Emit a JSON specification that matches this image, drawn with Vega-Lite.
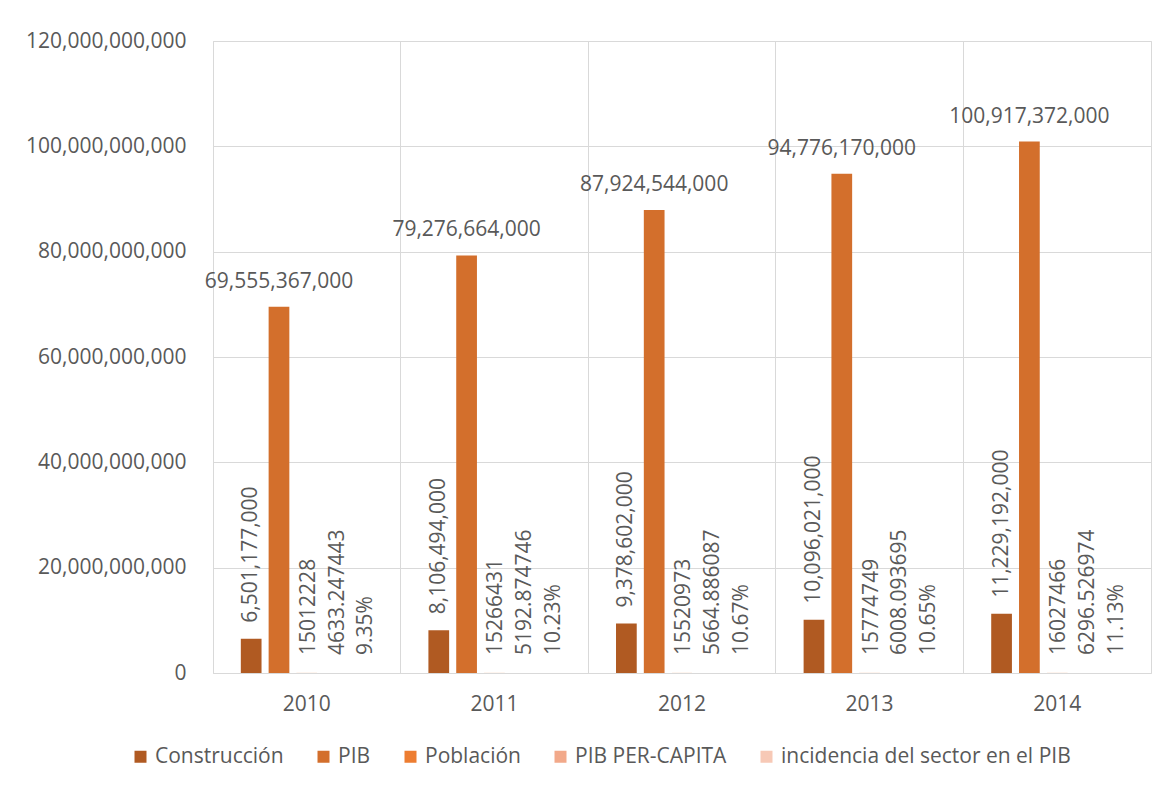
{
  "$schema": "https://vega.github.io/schema/vega-lite/v6.json",
  "width": 938,
  "height": 632,
  "autosize": {"type": "none"},
  "padding": {"left": 213, "top": 41, "right": 16, "bottom": 114},
  "background": "white",
  "config": {
    "font": "Open Sans",
    "view": {"stroke": "#d9d9d9", "strokeWidth": 1},
    "axis": {"labelFont": "Open Sans", "labelFontSize": 21, "labelColor": "#595959", "gridColor": "#d9d9d9", "gridWidth": 1, "domain": false, "ticks": false, "title": null},
    "text": {"font": "Open Sans", "fontSize": 21, "fill": "#595959"}
  },
  "data": {
    "values": [
      {"year": "2010", "serie": "Construcción", "value": 6501177000},
      {"year": "2010", "serie": "PIB", "value": 69555367000},
      {"year": "2010", "serie": "Población", "value": 15012228},
      {"year": "2010", "serie": "PIB PER-CAPITA", "value": 4633.247443},
      {"year": "2010", "serie": "incidencia del sector en el PIB", "value": 0.0935},
      {"year": "2011", "serie": "Construcción", "value": 8106494000},
      {"year": "2011", "serie": "PIB", "value": 79276664000},
      {"year": "2011", "serie": "Población", "value": 15266431},
      {"year": "2011", "serie": "PIB PER-CAPITA", "value": 5192.874746},
      {"year": "2011", "serie": "incidencia del sector en el PIB", "value": 0.1023},
      {"year": "2012", "serie": "Construcción", "value": 9378602000},
      {"year": "2012", "serie": "PIB", "value": 87924544000},
      {"year": "2012", "serie": "Población", "value": 15520973},
      {"year": "2012", "serie": "PIB PER-CAPITA", "value": 5664.886087},
      {"year": "2012", "serie": "incidencia del sector en el PIB", "value": 0.1067},
      {"year": "2013", "serie": "Construcción", "value": 10096021000},
      {"year": "2013", "serie": "PIB", "value": 94776170000},
      {"year": "2013", "serie": "Población", "value": 15774749},
      {"year": "2013", "serie": "PIB PER-CAPITA", "value": 6008.093695},
      {"year": "2013", "serie": "incidencia del sector en el PIB", "value": 0.1065},
      {"year": "2014", "serie": "Construcción", "value": 11229192000},
      {"year": "2014", "serie": "PIB", "value": 100917372000},
      {"year": "2014", "serie": "Población", "value": 16027466},
      {"year": "2014", "serie": "PIB PER-CAPITA", "value": 6296.526974},
      {"year": "2014", "serie": "incidencia del sector en el PIB", "value": 0.1113}
    ]
  },
  "encoding": {
    "x": {
      "field": "year", "type": "nominal",
      "scale": {"paddingInner": 0, "paddingOuter": 0},
      "axis": {"labelAngle": 0, "grid": true, "bandPosition": 0, "labelPadding": 20}
    },
    "xOffset": {
      "field": "serie", "type": "nominal",
      "scale": {"domain": ["Construcción", "PIB", "Población", "PIB PER-CAPITA", "incidencia del sector en el PIB"], "paddingInner": 0.255, "paddingOuter": 1.04}
    },
    "y": {
      "field": "value", "type": "quantitative",
      "scale": {"domain": [0, 120000000000], "nice": false},
      "axis": {"values": [0, 20000000000, 40000000000, 60000000000, 80000000000, 100000000000, 120000000000], "format": ",.0f", "labelPadding": 27, "grid": true}
    }
  },
  "layer": [
    {
      "mark": {"type": "bar"},
      "encoding": {
        "color": {
          "field": "serie", "type": "nominal",
          "scale": {"domain": ["Construcción", "PIB", "Población", "PIB PER-CAPITA", "incidencia del sector en el PIB"], "range": ["#B05A22", "#D36F2C", "#ED7D31", "#F2A98A", "#F7C9B6"]},
          "legend": {"orient": "none", "legendX": -83, "legendY": 705, "direction": "horizontal", "columns": 5, "title": null, "symbolType": "square", "symbolSize": 144, "symbolStrokeWidth": 0, "labelFont": "Open Sans", "labelFontSize": 21, "labelColor": "#595959", "labelOffset": 4, "columnPadding": 29, "labelLimit": 400}
        }
      }
    },
    {
      "transform": [{"filter": "datum.serie === 'PIB'"}],
      "mark": {"type": "text", "dy": -25, "baseline": "middle", "align": "center"},
      "encoding": {"text": {"field": "value", "type": "quantitative", "format": ",.0f"}}
    },
    {
      "transform": [{"filter": "datum.serie === 'Construcción'"}],
      "mark": {"type": "text", "angle": 270, "align": "left", "baseline": "middle", "dx": 16},
      "encoding": {"text": {"field": "value", "type": "quantitative", "format": ",.0f"}}
    },
    {
      "transform": [{"filter": "datum.serie === 'Población'"}],
      "mark": {"type": "text", "angle": 270, "align": "left", "baseline": "middle", "dx": 18, "dy": 2},
      "encoding": {"text": {"field": "value", "type": "quantitative", "format": "d"}}
    },
    {
      "transform": [{"filter": "datum.serie === 'PIB PER-CAPITA'"}],
      "mark": {"type": "text", "angle": 270, "align": "left", "baseline": "middle", "dx": 18, "dy": 3},
      "encoding": {"text": {"field": "value", "type": "quantitative", "format": ".6f"}}
    },
    {
      "transform": [{"filter": "datum.serie === 'incidencia del sector en el PIB'"}],
      "mark": {"type": "text", "angle": 270, "align": "left", "baseline": "middle", "dx": 18, "dy": 4},
      "encoding": {"text": {"field": "value", "type": "quantitative", "format": ".2%"}}
    }
  ]
}
